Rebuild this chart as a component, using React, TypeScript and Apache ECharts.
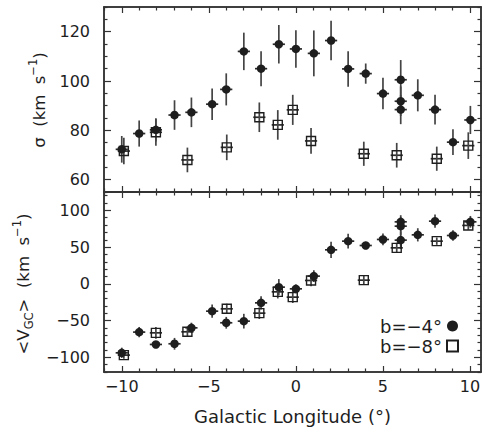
import React, { useEffect, useRef } from "react";
import * as echarts from "echarts";

// ---- data ----
// b = -4 deg fields
const lon4 = [-10, -9, -8.04, -6.97, -6.0, -4.81, -4.0, -2.99, -2.0, -0.98, 0.0, 1.03, 2.02, 3.0, 4.01, 5.0, 6.02, 6.02, 6.02, 7.0, 7.99, 9.02, 10.02];
const sigma4 = [72.3, 78.7, 80.2, 86.2, 87.3, 90.6, 96.6, 112, 105, 114.9, 113, 111.2, 116.4, 104.9, 103, 94.9, 100.5, 91.8, 88.4, 94.2, 88.4, 75.2, 84.2];
const sigma4Err = [5.4, 5.3, 4.7, 6, 6, 6.4, 6.5, 7.6, 7.1, 7.8, 7.6, 9.3, 8, 7.2, 4.1, 6.4, 8, 6, 5.9, 6.5, 6, 5.2, 5.7];
const vgc4 = [-93.9, -65.7, -82.5, -81.6, -59.9, -37.2, -53, -50.8, -25.9, -4.5, -6.8, 10.5, 46.3, 58.1, 52.2, 60.4, 84.4, 78.5, 59.5, 66.7, 85.3, 65.8, 84.4];
const vgc4Err = [7, 7, 4, 8, 7, 9, 8, 10, 9, 11, 6, 8, 11, 10, 5, 8, 9, 12, 12, 9, 9, 7, 8];

// b = -8 deg fields
const lon8 = [-9.88, -8.04, -6.23, -3.97, -2.1, -1.04, -0.18, 0.87, 3.9, 5.79, 8.09, 9.9];
const sigma8 = [71.6, 79.2, 68, 73.1, 85.3, 82.2, 88.3, 75.7, 70.5, 69.9, 68.5, 73.8];
const sigma8Err = [5.4, 5.4, 5, 5.2, 6, 6, 6.1, 5.2, 4.9, 5, 4.9, 5.4];
const vgc8 = [-97, -66.7, -65.3, -34, -39.9, -10.9, -18.1, 4.6, 5.0, 49, 58.1, 79.5];
const vgc8Err = [5, 8, 7, 7, 8, 9, 8, 8, 6, 7, 5, 6];

const lonErr = 0.35;

const xTicks = [-10, -5, 0, 5, 10];
const sigmaTicks = [60, 80, 100, 120];
const vgcTicks = [-100, -50, 0, 50, 100];

const name4 = "b=\u22124°";
const name8 = "b=\u22128°";

const FONT = "DejaVu Sans";
const INK = "#1e1e1e";
const AXC = "#333";

const steps = (a: number, b: number, s: number) => {
  const out: number[] = [];
  for (let v = a; v <= b + 1e-9; v += s) out.push(Math.round(v * 1000) / 1000);
  return out;
};

const fmt = (v: number) => (v < 0 ? "\u2212" + Math.abs(v) : String(v));

export default function App() {
  const ref = useRef<HTMLDivElement>(null);

  useEffect(() => {
    if (!ref.current) return;
    const chart = echarts.init(ref.current, null, { renderer: "svg" });

    const xMin = -11.02, xMax = 10.63;
    const sMin = 55, sMax = 130;
    const vMin = -120, vMax = 125;

    const xMinor = steps(-11, 10, 1).filter((v) => v % 5 !== 0);
    const sMinor = steps(55, 130, 5).filter((v) => v % 20 !== 0);
    const vMinor = steps(-120, 120, 10).filter((v) => v % 50 !== 0);

    const axLine = { show: true, onZero: false, lineStyle: { color: AXC, width: 1.5 } };

    const xAx = (grid: number, pos: string, ticks: number[], len: number, labels: boolean, extra: any = {}) => ({
      type: "value",
      gridIndex: grid,
      position: pos,
      min: xMin,
      max: xMax,
      axisLine: axLine,
      splitLine: { show: false },
      axisTick: { show: true, inside: true, length: len, customValues: ticks, lineStyle: { color: AXC, width: 1.2 } },
      axisLabel: labels
        ? { show: true, customValues: xTicks, formatter: fmt, fontFamily: FONT, fontSize: 16, color: INK, margin: 6 }
        : { show: false },
      ...extra,
    });

    const yAx = (grid: number, pos: string, min: number, max: number, ticks: number[], len: number, labelTicks: number[] | null) => ({
      type: "value",
      gridIndex: grid,
      position: pos,
      min,
      max,
      axisLine: axLine,
      splitLine: { show: false },
      axisTick: { show: true, inside: true, length: len, customValues: ticks, lineStyle: { color: AXC, width: 1.2 } },
      axisLabel: labelTicks
        ? { show: true, customValues: labelTicks, formatter: fmt, fontFamily: FONT, fontSize: 16, color: INK, margin: 14 }
        : { show: false },
    });

    const errRender = (params: any, api: any) => {
      const x = api.value(0), y = api.value(1), ex = api.value(2), ey = api.value(3);
      const l = api.coord([x - ex, y]);
      const r = api.coord([x + ex, y]);
      const t = api.coord([x, y + ey]);
      const b = api.coord([x, y - ey]);
      return {
        type: "group",
        children: [
          { type: "line", shape: { x1: l[0], y1: l[1], x2: r[0], y2: r[1] }, style: { stroke: "#2a2a2a", lineWidth: 1.7 } },
          { type: "line", shape: { x1: t[0], y1: t[1], x2: b[0], y2: b[1] }, style: { stroke: "#444", lineWidth: 1.7 } },
        ],
      };
    };

    const errSeries = (name: string, xi: number, lon: number[], val: number[], err: number[]) => ({
      type: "custom",
      name,
      xAxisIndex: xi,
      yAxisIndex: xi,
      renderItem: errRender,
      encode: { x: 0, y: 1 },
      data: lon.map((l, i) => [l, val[i], lonErr, err[i]]),
      z: 2,
      silent: true,
    });

    const circ = (xi: number, lon: number[], val: number[]) => ({
      type: "scatter",
      name: name4,
      xAxisIndex: xi,
      yAxisIndex: xi,
      symbol: "circle",
      symbolSize: 8.5,
      itemStyle: { color: INK, opacity: 1 },
      data: lon.map((l, i) => [l, val[i]]),
      z: 5,
    });

    const sq = (xi: number, lon: number[], val: number[]) => ({
      type: "scatter",
      name: name8,
      xAxisIndex: xi,
      yAxisIndex: xi,
      symbol: "rect",
      symbolSize: 9,
      itemStyle: { color: "rgba(255,255,255,0)", borderColor: INK, borderWidth: 1.4, opacity: 1 },
      data: lon.map((l, i) => [l, val[i]]),
      z: 5,
    });

    const titleStyle = (text: string) => ({
      text,
      align: "center",
      verticalAlign: "middle",
      fontFamily: FONT,
      fontSize: 16.5,
      fill: INK,
      lineHeight: 24,
      rich: {
        sup: { fontFamily: FONT, fontSize: 11.5, fill: INK, verticalAlign: "top", lineHeight: 12 },
        sub: { fontFamily: FONT, fontSize: 11.5, fill: INK, verticalAlign: "bottom", lineHeight: 12 },
      },
    });

    const option: any = {
      animation: false,
      backgroundColor: "#fff",
      grid: [
        { left: 104, top: 7, width: 377, height: 185 },
        { left: 104, top: 192, width: 377, height: 180 },
      ],
      xAxis: [
        xAx(0, "bottom", xTicks, 6, false),
        xAx(0, "top", xTicks, 6, false),
        xAx(0, "bottom", xMinor, 3.5, false),
        xAx(0, "top", xMinor, 3.5, false),
        xAx(1, "bottom", xTicks, 6, true, {
          name: "Galactic Longitude (°)",
          nameLocation: "middle",
          nameGap: 35,
          nameTextStyle: { fontFamily: FONT, fontSize: 18, color: INK },
        }),
        xAx(1, "top", xTicks, 6, false),
        xAx(1, "bottom", xMinor, 3.5, false),
        xAx(1, "top", xMinor, 3.5, false),
      ],
      yAxis: [
        yAx(0, "left", sMin, sMax, sigmaTicks, 7, sigmaTicks),
        yAx(0, "right", sMin, sMax, sigmaTicks, 7, null),
        yAx(0, "left", sMin, sMax, sMinor, 3.5, null),
        yAx(0, "right", sMin, sMax, sMinor, 3.5, null),
        yAx(1, "left", vMin, vMax, vgcTicks, 7, vgcTicks),
        yAx(1, "right", vMin, vMax, vgcTicks, 7, null),
        yAx(1, "left", vMin, vMax, vMinor, 3.5, null),
        yAx(1, "right", vMin, vMax, vMinor, 3.5, null),
      ],
      legend: {
        data: [name4, name8],
        orient: "vertical",
        align: "right",
        right: 21,
        top: 312,
        itemWidth: 11,
        itemHeight: 11,
        itemGap: 2,
        selectedMode: false,
        textStyle: { fontFamily: FONT, fontSize: 18, color: INK },
      },
      graphic: [
        {
          type: "text",
          x: 39,
          y: 100,
          rotation: Math.PI / 2,
          style: titleStyle("σ  (km  s{sup|\u22121})"),
        },
        {
          type: "text",
          x: 23,
          y: 284,
          rotation: Math.PI / 2,
          style: titleStyle("<V{sub|GC}>  (km  s{sup|\u22121})"),
        },
      ],
      series: [
        errSeries("e4s", 0, lon4, sigma4, sigma4Err),
        errSeries("e8s", 0, lon8, sigma8, sigma8Err),
        circ(0, lon4, sigma4),
        sq(0, lon8, sigma8),
        errSeries("e4v", 4, lon4, vgc4, vgc4Err),
        errSeries("e8v", 4, lon8, vgc8, vgc8Err),
        circ(4, lon4, vgc4),
        sq(4, lon8, vgc8),
      ],
    };

    chart.setOption(option);
    return () => chart.dispose();
  }, []);

  return (
    <div
      ref={ref}
      style={{ position: "fixed", left: 0, top: 0, width: 485, height: 429, background: "#fff" }}
    />
  );
}
